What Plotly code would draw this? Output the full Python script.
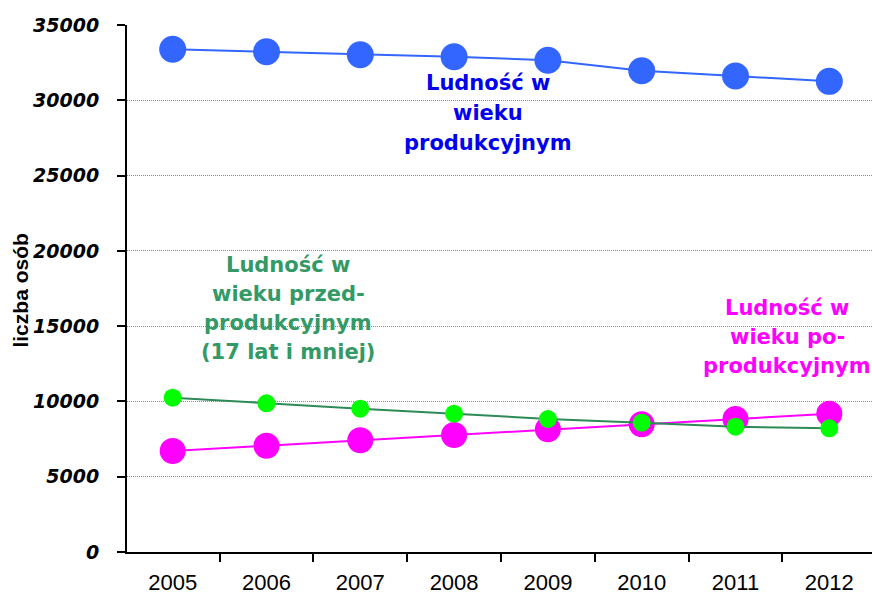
import plotly.graph_objects as go

years = ["2005", "2006", "2007", "2008", "2009", "2010", "2011", "2012"]
produkcyjny = [33385, 33225, 33026, 32893, 32654, 31963, 31611, 31259]
przedprodukcyjny = [10247, 9874, 9517, 9185, 8833, 8588, 8322, 8215]
poprodukcyjny = [6707, 7060, 7418, 7770, 8148, 8480, 8833, 9185]

y_ticks = [0, 5000, 10000, 15000, 20000, 25000, 30000, 35000]
y_title = "liczba osób"
label_prod = ["Ludność w", "wieku", "produkcyjnym"]
label_przed = ["Ludność w", "wieku przed-", "produkcyjnym", "(17 lat i mniej)"]
label_po = ["Ludność w", "wieku po-", "produkcyjnym"]

fig = go.Figure()
fig.add_trace(go.Scatter(x=years, y=produkcyjny, mode="lines+markers",
                         line=dict(color="#3366FF", width=2),
                         marker=dict(color="#3366FF", size=27), hoverinfo="skip"))
fig.add_trace(go.Scatter(x=years, y=poprodukcyjny, mode="lines+markers",
                         line=dict(color="#FF00FF", width=2),
                         marker=dict(color="#FF00FF", size=26), hoverinfo="skip"))
fig.add_trace(go.Scatter(x=years, y=przedprodukcyjny, mode="lines+markers",
                         line=dict(color="#2E8B57", width=2),
                         marker=dict(color="#00FF00", size=18), hoverinfo="skip"))

annots = []
def add_label(lines, xc, ys, color):
    for txt, yv in zip(lines, ys):
        annots.append(dict(x=xc, y=yv, xref="x", yref="y", text="<b>%s</b>" % txt,
                           showarrow=False, xanchor="center", yanchor="middle",
                           font=dict(family="DejaVu Sans", size=21, color=color)))

add_label(label_prod, 3.36, [31146, 29154, 27162], "#0000EE")
add_label(label_przed, 1.23, [19060, 17134, 15208, 13282], "#339966")
add_label(label_po, 6.55, [16204, 14278, 12352], "#FF00FF")

annots.append(dict(x=-0.143, y=0.497, xref="paper", yref="paper", text="<b>%s</b>" % y_title,
                   showarrow=False, textangle=-90, xanchor="center", yanchor="middle",
                   font=dict(family="Liberation Sans", size=21, color="black")))

fig.update_layout(
    width=872, height=595,
    margin=dict(l=127, r=0, t=25, b=43),
    paper_bgcolor="white", plot_bgcolor="white",
    showlegend=False,
    annotations=annots,
    xaxis=dict(type="category", range=[-0.487, 7.455],
               showline=True, linecolor="black", linewidth=2,
               ticks="outside", ticklen=8, tickwidth=2, tickcolor="black",
               tickson="boundaries", showgrid=False, zeroline=False,
               tickfont=dict(family="Liberation Sans", size=22, color="black"),
               ticklabelstandoff=10),
    yaxis=dict(range=[0, 35000], tickvals=y_ticks,
               ticktext=["<b><i>%d</i></b>" % v for v in y_ticks],
               showline=True, linecolor="black", linewidth=2,
               ticks="outside", ticklen=8, tickwidth=2, tickcolor="black",
               showgrid=True, gridcolor="#8a8a8a", griddash="1px,1px", gridwidth=1,
               zeroline=False,
               tickfont=dict(family="DejaVu Sans", size=19, color="black"),
               ticklabelstandoff=14),
)

fig.write_html("out.html", config={"displayModeBar": False},
               post_script="document.body.style.margin='0';document.body.style.overflow='hidden';")
